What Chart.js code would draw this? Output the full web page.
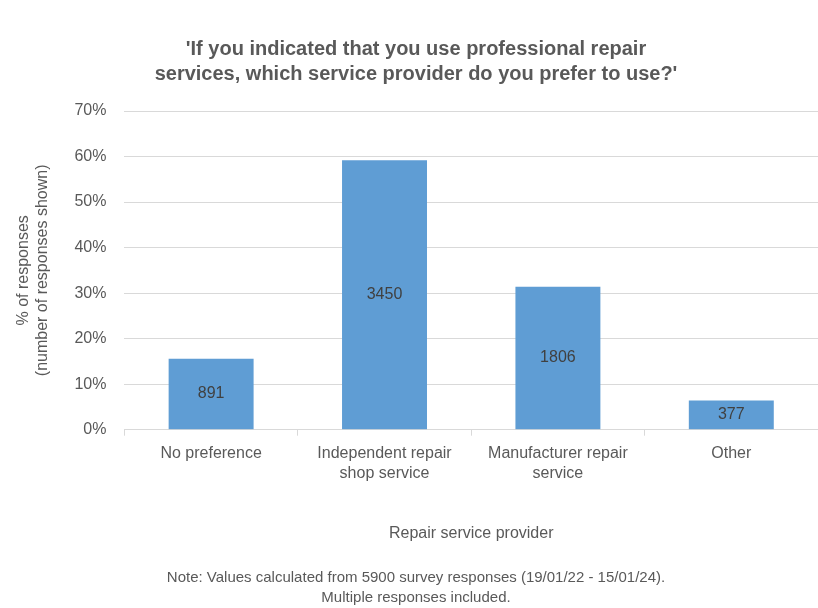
<!DOCTYPE html>
<html>
<head>
<meta charset="utf-8">
<script src="https://cdn.jsdelivr.net/npm/chart.js@4.4.1/dist/chart.umd.min.js"></script>
<style>
  html, body { margin: 0; padding: 0; background: #fff; }
  #wrap { width: 818px; height: 608px; }
</style>
</head>
<body>
<div id="wrap"><canvas id="repairChart" width="818" height="608"></canvas></div>
<script>
// datos
const categorias = [['No preference'], ['Independent repair', 'shop service'], ['Manufacturer repair', 'service'], ['Other']];
const porcentajes = [15.6, 59.2, 31.4, 6.4];
const respuestas = [891, 3450, 1806, 377];
const tituloGrafico = ["'If you indicated that you use professional repair", "services, which service provider do you prefer to use?'"];
const notaPie = ['Note: Values calculated from 5900 survey responses (19/01/22 - 15/01/24).', 'Multiple responses included.'];

const grisTexto = '#595959';
const fuente = "'Liberation Sans', Arial, sans-serif";

// etiquetas dentro de las barras
const etiquetasBarras = {
    id: 'etiquetasBarras',
    afterDatasetsDraw(chart) {
        const ctx = chart.ctx;
        const meta = chart.getDatasetMeta(0);
        ctx.save();
        ctx.fillStyle = '#404040';
        ctx.font = '16px ' + fuente;
        ctx.textAlign = 'center';
        ctx.textBaseline = 'middle';
        meta.data.forEach(function (bar, i) {
            ctx.fillText(String(respuestas[i]), bar.x, (bar.y + bar.base) / 2);
        });
        ctx.restore();
    }
};

document.addEventListener('DOMContentLoaded', function () {
    var ctx = document.getElementById('repairChart').getContext('2d');

    var myChart = new Chart(ctx, {
        type: 'bar',
        data: {
            labels: categorias,
            datasets: [{
                label: '% of responses',
                data: porcentajes,
                backgroundColor: '#5f9dd4',
                borderWidth: 0,
                categoryPercentage: 1.0,
                barPercentage: 0.49
            }]
        },
        options: {
            responsive: false,
            animation: false,
            layout: { padding: { left: 14, right: 0, top: 6, bottom: 0 } },
            plugins: {
                legend: { display: false },
                tooltip: { enabled: false },
                title: {
                    display: true,
                    text: tituloGrafico,
                    color: grisTexto,
                    font: { family: fuente, size: 20, weight: 'bold', lineHeight: 1.25 },
                    padding: { top: 31, bottom: 24 }
                },
                subtitle: {
                    display: true,
                    position: 'bottom',
                    text: notaPie,
                    color: grisTexto,
                    font: { family: fuente, size: 15, lineHeight: 1.35 },
                    padding: { top: 24, bottom: 0 }
                }
            },
            scales: {
                x: {
                    offset: true,
                    grid: {
                        offset: true,
                        drawOnChartArea: false,
                        drawTicks: true,
                        tickLength: 6,
                        color: '#d9d9d9'
                    },
                    border: { color: '#d9d9d9', width: 1 },
                    ticks: {
                        color: grisTexto,
                        font: { family: fuente, size: 16, lineHeight: 1.3 },
                        padding: 7,
                        maxRotation: 0,
                        autoSkip: false
                    },
                    title: {
                        display: true,
                        text: 'Repair service provider',
                        color: grisTexto,
                        font: { family: fuente, size: 16 },
                        padding: { top: 33, bottom: 0 }
                    }
                },
                y: {
                    min: 0,
                    max: 70,
                    ticks: {
                        stepSize: 10,
                        color: grisTexto,
                        font: { family: fuente, size: 16 },
                        padding: 18,
                        callback: function (v) { return v + '%'; }
                    },
                    grid: { color: '#d9d9d9', drawTicks: false },
                    border: { display: false },
                    title: {
                        display: true,
                        text: ['% of responses', '(number of responses shown)'],
                        color: grisTexto,
                        font: { family: fuente, size: 16, lineHeight: 1.2 },
                        padding: { top: 0, bottom: 4 }
                    }
                }
            }
        },
        plugins: [etiquetasBarras]
    });
});
</script>
</body>
</html>
